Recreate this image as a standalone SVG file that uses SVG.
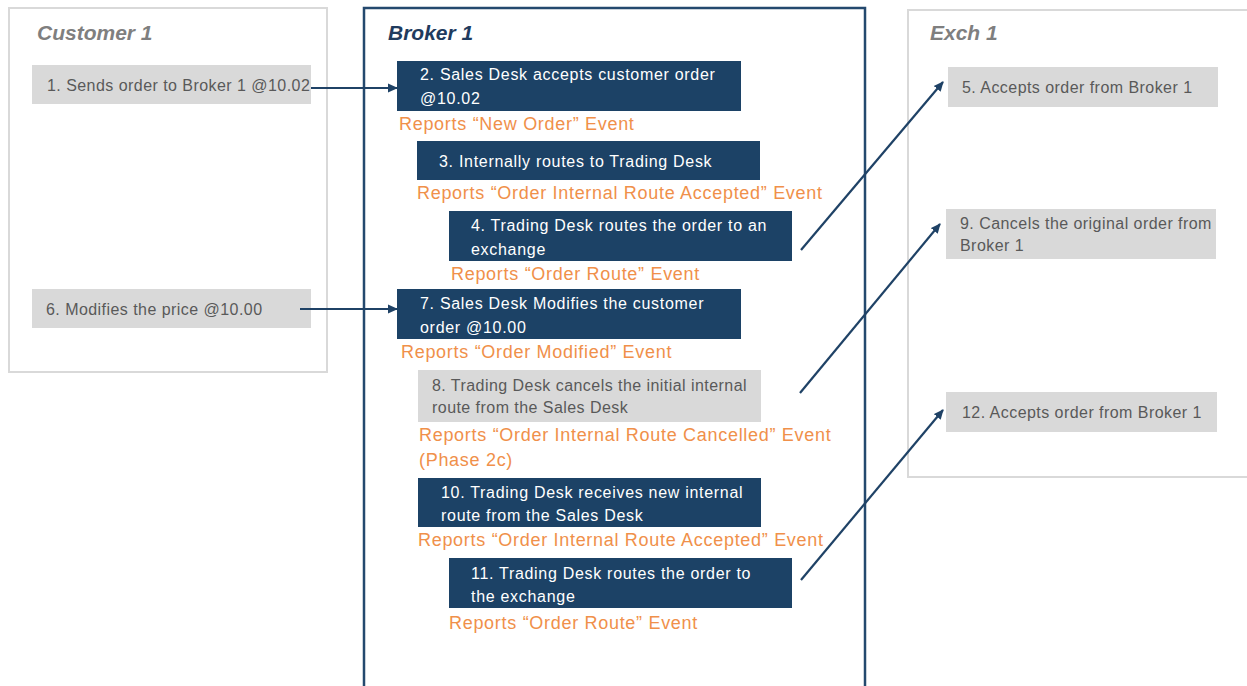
<svg xmlns="http://www.w3.org/2000/svg" width="1247" height="686" viewBox="0 0 1247 686">
<defs>
<marker id="ah" viewBox="0 0 10 10" refX="9" refY="5" markerWidth="10" markerHeight="10" markerUnits="userSpaceOnUse" orient="auto">
<path d="M0,0.5 L10,5 L0,9.5 z" fill="#1f4266"/>
</marker>
<style>
.lane{fill:#fff;stroke:#d9d9d9;stroke-width:2}
.blane{fill:#fff;stroke:#24496e;stroke-width:2.5}
.title{font-family:"Liberation Sans",Arial,sans-serif;font-size:21px;font-weight:bold;font-style:italic}
.gt{fill:#7f7f7f}
.bt{fill:#1f3b5e}
.g{fill:#d9d9d9}
.d{fill:#1c4266}
.tg{font-family:"Liberation Sans",Arial,sans-serif;font-size:16px;letter-spacing:0.45px;fill:#595959}
.tw{font-family:"Liberation Sans",Arial,sans-serif;font-size:16px;letter-spacing:0.7px;fill:#ffffff}
.ev{font-family:"Liberation Sans",Arial,sans-serif;font-size:18px;letter-spacing:0.7px;fill:#f0904a}
.c{stroke:#1f4266;stroke-width:2.2;fill:none}
</style>
</defs>
<g id="lane-customer">
<rect class="lane" x="9" y="8" width="318" height="364"/>
<text class="title gt" x="37" y="40">Customer 1</text>
</g>
<g id="lane-broker">
<rect class="blane" x="364" y="8" width="501" height="690"/>
<text class="title bt" x="388" y="40">Broker 1</text>
</g>
<g id="lane-exch">
<rect class="lane" x="908" y="10" width="345" height="467"/>
<text class="title gt" x="930" y="40">Exch 1</text>
</g>
<g id="n1"><rect class="g" x="32" y="65" width="279" height="39"/><text class="tg" x="47" y="91">1. Sends order to Broker 1 @10.02</text></g>
<g id="n2"><rect class="d" x="397" y="61" width="344" height="50"/><text class="tw" x="420" y="80">2. Sales Desk accepts customer order</text><text class="tw" x="420" y="104">@10.02</text></g>
<g id="e2"><text class="ev" x="399" y="130">Reports “New Order” Event</text></g>
<g id="n3"><rect class="d" x="417" y="141" width="343" height="39"/><text class="tw" x="439" y="167">3. Internally routes to Trading Desk</text></g>
<g id="e3"><text class="ev" x="417" y="199">Reports “Order Internal Route Accepted” Event</text></g>
<g id="n4"><rect class="d" x="449" y="211" width="343" height="50"/><text class="tw" x="471" y="231">4. Trading Desk routes the order to an</text><text class="tw" x="471" y="255">exchange</text></g>
<g id="e4"><text class="ev" x="451" y="280">Reports “Order Route” Event</text></g>
<g id="n5"><rect class="g" x="948" y="67" width="270" height="40"/><text class="tg" x="962" y="93">5. Accepts order from Broker 1</text></g>
<g id="n6"><rect class="g" x="32" y="289" width="279" height="39"/><text class="tg" x="46" y="315">6. Modifies the price @10.00</text></g>
<g id="n7"><rect class="d" x="397" y="289" width="344" height="50"/><text class="tw" x="420" y="309">7. Sales Desk Modifies the customer</text><text class="tw" x="420" y="333">order @10.00</text></g>
<g id="e7"><text class="ev" x="401" y="358">Reports “Order Modified” Event</text></g>
<g id="n8"><rect class="g" x="418" y="370" width="343" height="52"/><text class="tg" x="432" y="391">8. Trading Desk cancels the initial internal</text><text class="tg" x="432" y="413">route from the Sales Desk</text></g>
<g id="e8"><text class="ev" x="419" y="441">Reports “Order Internal Route Cancelled” Event</text><text class="ev" x="419" y="466">(Phase 2c)</text></g>
<g id="n9"><rect class="g" x="946" y="209" width="270" height="50"/><text class="tg" x="960" y="229">9. Cancels the original order from</text><text class="tg" x="960" y="251">Broker 1</text></g>
<g id="n10"><rect class="d" x="418" y="478" width="343" height="49"/><text class="tw" x="441" y="498">10. Trading Desk receives new internal</text><text class="tw" x="441" y="521">route from the Sales Desk</text></g>
<g id="e10"><text class="ev" x="418" y="546">Reports “Order Internal Route Accepted” Event</text></g>
<g id="n11"><rect class="d" x="449" y="558" width="343" height="50"/><text class="tw" x="471" y="579">11. Trading Desk routes the order to</text><text class="tw" x="471" y="602">the exchange</text></g>
<g id="e11"><text class="ev" x="449" y="629">Reports “Order Route” Event</text></g>
<g id="n12"><rect class="g" x="946" y="392" width="271" height="40"/><text class="tg" x="962" y="418">12. Accepts order from Broker 1</text></g>
<g id="connectors">
<line class="c" x1="311" y1="88" x2="397" y2="88" marker-end="url(#ah)"/>
<line class="c" x1="801" y1="250" x2="943" y2="82" marker-end="url(#ah)"/>
<line class="c" x1="300" y1="309" x2="397" y2="309" marker-end="url(#ah)"/>
<line class="c" x1="800" y1="393" x2="940" y2="224" marker-end="url(#ah)"/>
<line class="c" x1="801" y1="580" x2="943" y2="410" marker-end="url(#ah)"/>
</g>
</svg>
